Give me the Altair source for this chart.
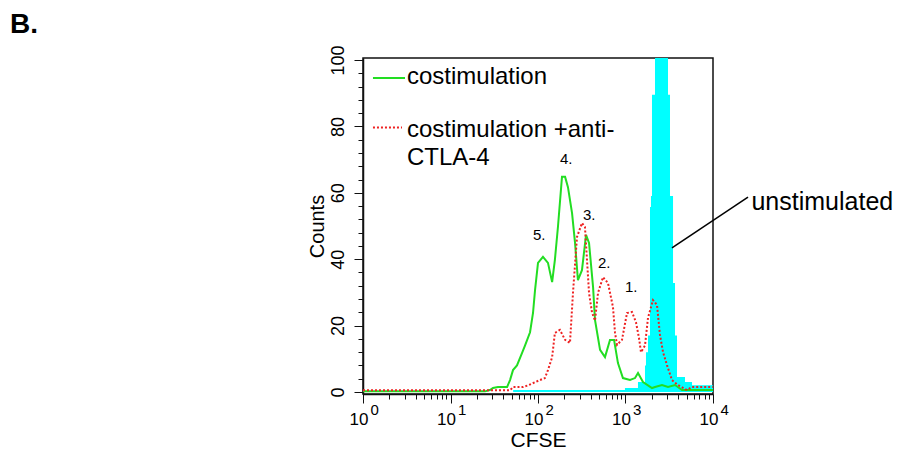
import altair as alt
import pandas as pd

# ---------------- data ----------------
decades = [1, 10, 100, 1000, 10000]
minor_x = [m * d for d in [1, 10, 100, 1000] for m in range(2, 10)]
major_y = [0, 20, 40, 60, 80, 100]
minor_y = list(range(0, 101, 4))

# unstimulated (cyan filled histogram): step edges in CFSE and counts
unstim_cfse = [52, 986, 1389, 1670, 1714, 1807, 1905, 1955, 2008, 2173,
               3060, 3225, 3493, 3680, 3878, 4786, 5754, 10000]
unstim_counts = [0.6, 1.2, 3, 8, 12, 17, 55.7, 59, 89.5, 140,
                 89.5, 59, 32.8, 17, 4.5, 3, 2, 2]

# costimulation (green line)
costim_cfse = [1, 24.8, 28.2, 30.6, 34.9, 44.3, 47.9, 51.8, 57.5, 65.6, 71, 81.1,
               87.7, 92.5, 100, 114, 130, 145, 156, 169, 188, 204, 220, 245, 265,
               286, 318, 354, 383, 426, 448, 512, 583, 665, 740, 820, 935, 1125,
               1285, 1390, 1585, 2010, 2173, 2612, 3062, 3681, 4426, 10000]
costim_counts = [0.2, 0.2, 0.6, 1.2, 1.5, 1.5, 3.6, 6.6, 8, 11.7, 14, 18,
                 23.8, 30.7, 38.9, 40.7, 38.9, 33.1, 39.8, 49.7, 64.8, 64.8, 61.7, 53.9, 44.9,
                 33.7, 36.7, 47.3, 44.9, 31.6, 21.7, 12.7, 10.5, 15.7, 15.7, 8.7, 4.2, 3.6,
                 4.2, 5.7, 3, 1.2, 1.5, 2.1, 1.5, 2.1, 0.6, 0.6]

# costimulation + anti-CTLA-4 (red dotted line)
ctla_cfse = [1, 48, 51.8, 67.5, 76.9, 105, 120, 130, 145, 156, 178, 204, 232, 251,
             279, 318, 344, 363, 383, 414, 448, 485, 553, 631, 719, 759, 800, 912,
             1040, 1186, 1318, 1426, 1503, 1670, 1807, 2061, 2291, 2477, 2685, 2979,
             3396, 3981, 5047, 5754, 10000]
ctla_counts = [0.5, 0.5, 1.5, 1.5, 2, 3.6, 4.2, 6.6, 10.5, 17.8, 18.7, 15.7, 14.8, 29.8,
               46.7, 50.9, 49.7, 39.8, 29.8, 24, 21.5, 29.8, 34.6, 32.8, 25.6, 17.8, 14.2, 15.7,
               23.8, 24.1, 21, 16.3, 12, 14, 22.3, 27.7, 26.2, 17.2, 12, 8.1,
               3.6, 2.1, 0.6, 1.5, 1.5]

# peak number annotations
peak_labels = ["5.", "4.", "3.", "2.", "1."]
peak_cfse = [87.7, 178, 327, 485, 986]
peak_counts = [45.8, 68.7, 51.8, 37.3, 30.2]

# legend (drawn inside the plot)
legend_texts = ["costimulation", "costimulation +anti-", "CTLA-4"]
legend_text_cfse = [3.18, 3.18, 3.18]
legend_text_counts = [92.9, 76.7, 68.4]
legend_green_line = {"x": [1.30], "x2": [3.02], "y": [94.6]}
legend_red_line = {"x": [1.30], "x2": [2.79], "y": [79.7]}

# "unstimulated" pointer
unstim_label = ["unstimulated"]
unstim_label_cfse = [27500]
unstim_label_count = [54.8]
pointer = {"x": [3396], "x2": [25120], "y": [43.4], "y2": [58.7]}

# ---------------- chart ----------------
W, H = 350, 336
FONT = "Liberation Sans"
INK = "#111111"

xs = alt.Scale(type="log", domain=[1, 10000])
ys = alt.Scale(domain=[-0.6, 100.6])

ax_x_major = alt.Axis(orient="bottom", values=decades, labelExpr="'10'",
                      labelAlign="right", labelOffset=5, labelFontSize=17, labelPadding=8,
                      labelFlush=False, labelOverlap=False, labelColor="#000",
                      tickSize=9, tickColor=INK, domainColor=INK, domainWidth=1.5,
                      grid=False, title="CFSE", titleFontSize=21, titleFontWeight="normal",
                      titleColor="#000", titleBaseline="alphabetic", titleY=52)
ax_x_minor = alt.Axis(orient="bottom", values=minor_x, labels=False, tickSize=5,
                      tickColor=INK, domain=False, grid=False, title=None)
ax_x_exp = alt.Axis(orient="bottom", values=decades,
                    labelExpr="'' + round(log(datum.value) / LN10)",
                    labelAlign="left", labelOffset=7, labelFontSize=15, labelPadding=8,
                    labelFlush=False, labelOverlap=False, labelColor="#000",
                    tickSize=0, domain=False, grid=False, title=None)
ax_y_major = alt.Axis(orient="left", values=major_y, labelAngle=270, labelAlign="center",
                      labelBaseline="bottom", labelFontSize=18, labelPadding=7,
                      labelFlush=False, labelOverlap=False, labelColor="#000",
                      tickSize=9, tickColor=INK, domainColor=INK, domainWidth=1.5,
                      grid=False, title="Counts", titleFontSize=20, titleFontWeight="normal",
                      titleColor="#000", titlePadding=2)
ax_y_minor = alt.Axis(orient="left", values=minor_y, labels=False, tickSize=5,
                      tickColor=INK, domain=False, grid=False, title=None)

unstim_df = pd.DataFrame({"cfse": unstim_cfse, "count": unstim_counts})
costim_df = pd.DataFrame({"cfse": costim_cfse, "count": costim_counts})
ctla_df = pd.DataFrame({"cfse": ctla_cfse, "count": ctla_counts})

area = alt.Chart(unstim_df).mark_area(
    interpolate="step-after", color="#00ffff", opacity=1, clip=True
).encode(
    x=alt.X("cfse:Q", scale=xs, axis=ax_x_major),
    y=alt.Y("count:Q", scale=ys, axis=ax_y_major),
)

green = alt.Chart(costim_df).mark_line(color="#22dd22", strokeWidth=2).encode(
    x=alt.X("cfse:Q", scale=xs, axis=ax_x_minor),
    y=alt.Y("count:Q", scale=ys, axis=ax_y_minor),
)

red = alt.Chart(ctla_df).mark_line(
    color="#ee2222", strokeWidth=2, strokeDash=[2, 2]
).encode(
    x=alt.X("cfse:Q", scale=xs, axis=ax_x_exp),
    y=alt.Y("count:Q", scale=ys, axis=None),
)

peaks = alt.Chart(pd.DataFrame({"t": peak_labels, "cfse": peak_cfse, "count": peak_counts})).mark_text(
    align="left", baseline="alphabetic", fontSize=15, color="#000"
).encode(
    x=alt.X("cfse:Q", scale=xs, axis=None),
    y=alt.Y("count:Q", scale=ys, axis=None),
    text="t:N",
)

leg_text = alt.Chart(pd.DataFrame({"t": legend_texts, "cfse": legend_text_cfse,
                                   "count": legend_text_counts})).mark_text(
    align="left", baseline="alphabetic", fontSize=24, color="#000"
).encode(
    x=alt.X("cfse:Q", scale=xs, axis=None),
    y=alt.Y("count:Q", scale=ys, axis=None),
    text="t:N",
)

leg_green = alt.Chart(pd.DataFrame(legend_green_line)).mark_rule(
    color="#22dd22", strokeWidth=2
).encode(
    x=alt.X("x:Q", scale=xs, axis=None), x2="x2:Q",
    y=alt.Y("y:Q", scale=ys, axis=None),
)

leg_red = alt.Chart(pd.DataFrame(legend_red_line)).mark_rule(
    color="#ee2222", strokeWidth=2, strokeDash=[2, 2]
).encode(
    x=alt.X("x:Q", scale=xs, axis=None), x2="x2:Q",
    y=alt.Y("y:Q", scale=ys, axis=None),
)

ptr = alt.Chart(pd.DataFrame(pointer)).mark_rule(color="#000", strokeWidth=1.5).encode(
    x=alt.X("x:Q", scale=xs, axis=None), x2="x2:Q",
    y=alt.Y("y:Q", scale=ys, axis=None), y2="y2:Q",
)

unstim_txt = alt.Chart(pd.DataFrame({"t": unstim_label, "cfse": unstim_label_cfse,
                                     "count": unstim_label_count})).mark_text(
    align="left", baseline="alphabetic", fontSize=25, color="#000"
).encode(
    x=alt.X("cfse:Q", scale=xs, axis=None),
    y=alt.Y("count:Q", scale=ys, axis=None),
    text="t:N",
)

panel_letter = alt.Chart(pd.DataFrame({"t": ["B."]})).mark_text(
    align="left", baseline="alphabetic", fontSize=28, fontWeight="bold", color="#000"
).encode(
    x=alt.value(-353), y=alt.value(-25), text="t:N",
)

chart = alt.layer(
    area, green, red, peaks, leg_green, leg_red, leg_text, ptr, unstim_txt, panel_letter
).resolve_axis(
    x="independent", y="independent"
).properties(
    width=W, height=H,
    autosize=alt.AutoSizeParams(type="none"),
    padding={"left": 355, "top": 50, "right": 181, "bottom": 56},
    background="white",
).configure(
    font=FONT
).configure_view(
    stroke=INK, strokeWidth=1.5
)

chart.save("out.html", embed_options={"renderer": "svg", "actions": False})
